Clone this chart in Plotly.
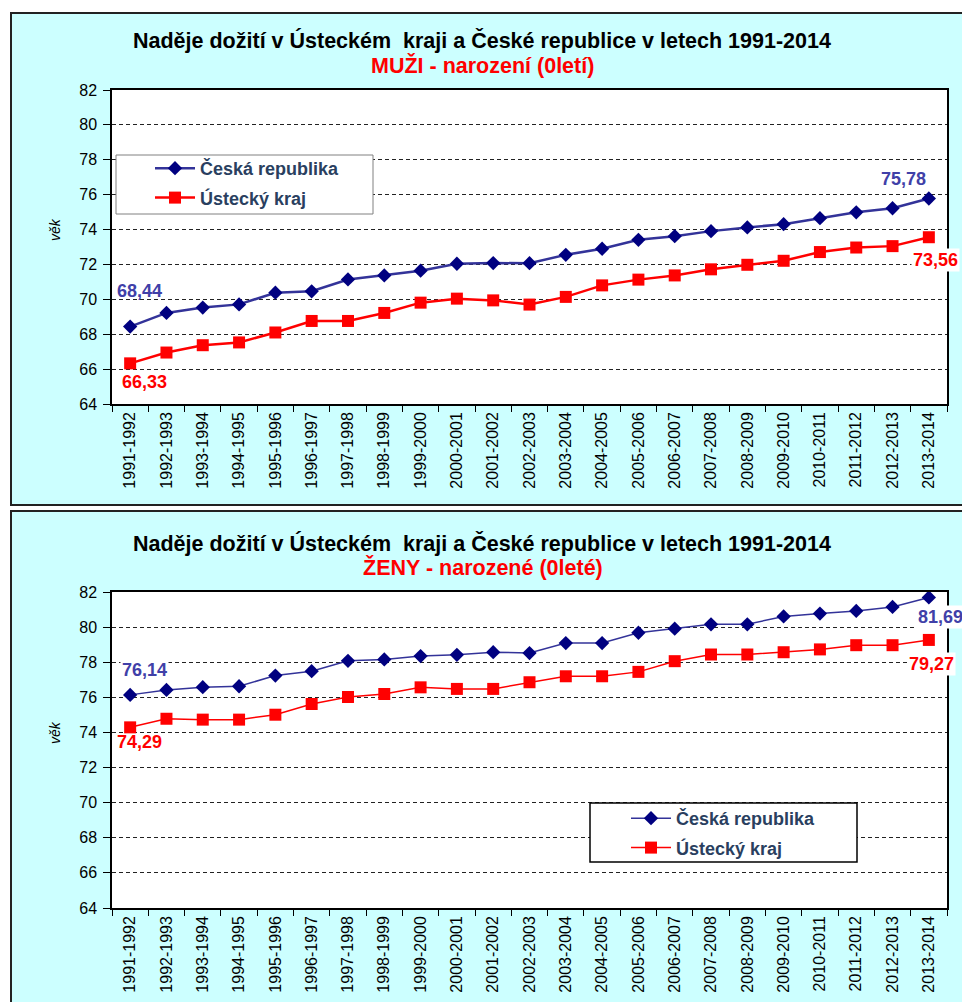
import plotly.graph_objects as go

categories = ["1991-1992", "1992-1993", "1993-1994", "1994-1995", "1995-1996", "1996-1997",
              "1997-1998", "1998-1999", "1999-2000", "2000-2001", "2001-2002", "2002-2003",
              "2003-2004", "2004-2005", "2005-2006", "2006-2007", "2007-2008", "2008-2009",
              "2009-2010", "2010-2011", "2011-2012", "2012-2013", "2013-2014"]

muzi_cr = [68.44, 69.22, 69.53, 69.71, 70.38, 70.46, 71.14, 71.37, 71.64, 72.04, 72.08, 72.07,
           72.55, 72.90, 73.41, 73.62, 73.91, 74.12, 74.31, 74.65, 74.99, 75.22, 75.78]
muzi_uk = [66.33, 66.95, 67.37, 67.53, 68.10, 68.76, 68.76, 69.22, 69.81, 70.04, 69.94, 69.70,
           70.14, 70.80, 71.13, 71.37, 71.72, 71.98, 72.21, 72.71, 72.97, 73.05, 73.56]
zeny_cr = [76.14, 76.42, 76.58, 76.63, 77.24, 77.49, 78.08, 78.16, 78.35, 78.42, 78.57, 78.52,
           79.09, 79.09, 79.68, 79.91, 80.16, 80.16, 80.61, 80.77, 80.92, 81.15, 81.69]
zeny_uk = [74.29, 74.78, 74.73, 74.73, 75.01, 75.62, 76.02, 76.19, 76.57, 76.48, 76.48, 76.86,
           77.20, 77.20, 77.45, 78.06, 78.44, 78.44, 78.57, 78.73, 78.97, 78.97, 79.27]

title_main = "Naděje dožití v Ústeckém  kraji a České republice v letech 1991-2014"
sub_top = "MUŽI - narození (0letí)"
sub_bot = "ŽENY - narozené (0leté)"
name_cr = "Česká republika"
name_uk = "Ústecký kraj"
y_title = "věk"
y_ticks = [64, 66, 68, 70, 72, 74, 76, 78, 80, 82]

W, H = 962, 1002
FONT = "Liberation Sans, Arial, sans-serif"
CR_LINE = "#333399"
CR_MARK = "#000080"
CR_TEXT = "#4040A8"
RED = "#FF0000"


def X(px):
    return px / W


def Y(py):
    return 1 - py / H


def lab(v):
    return f"{v:.2f}".replace(".", ",")


fig = go.Figure()

# top chart
fig.add_trace(go.Scatter(x=categories, y=muzi_cr, name=f"<b>{name_cr}</b>", mode="lines+markers",
                         line=dict(color=CR_LINE, width=2.5),
                         marker=dict(symbol="diamond", size=11, color=CR_MARK),
                         legend="legend", legendgroup="a", xaxis="x", yaxis="y"))
fig.add_trace(go.Scatter(x=categories, y=muzi_uk, name=f"<b>{name_uk}</b>", mode="lines+markers",
                         line=dict(color=RED, width=2.5),
                         marker=dict(symbol="square", size=12, color=RED),
                         legend="legend", legendgroup="b", xaxis="x", yaxis="y"))
# bottom chart
fig.add_trace(go.Scatter(x=categories, y=zeny_cr, name=f"<b>{name_cr}</b>", mode="lines+markers",
                         line=dict(color=CR_LINE, width=1.5),
                         marker=dict(symbol="diamond", size=11, color=CR_MARK),
                         legend="legend2", legendgroup="c", xaxis="x2", yaxis="y2"))
fig.add_trace(go.Scatter(x=categories, y=zeny_uk, name=f"<b>{name_uk}</b>", mode="lines+markers",
                         line=dict(color=RED, width=1.5),
                         marker=dict(symbol="square", size=12, color=RED),
                         legend="legend2", legendgroup="d", xaxis="x2", yaxis="y2"))

xa = dict(type="category", range=[-0.5, len(categories) - 0.5], autorange=False,
          showline=True, linecolor="black", linewidth=1.5, mirror=True,
          ticks="outside", ticklen=6, tickcolor="black", tickson="boundaries",
          tickangle=-90, tickfont=dict(family=FONT, size=16, color="black"),
          showgrid=False, zeroline=False, fixedrange=True, automargin=False)
ya = dict(range=[64, 82], autorange=False, tickvals=y_ticks, showline=True, linecolor="black",
          linewidth=1.5, mirror=True, ticks="outside", ticklen=7, tickcolor="black",
          tickfont=dict(family=FONT, size=16, color="black"), ticklabelstandoff=3,
          showgrid=True, gridcolor="#222222", gridwidth=1, griddash="4px,3px",
          zeroline=False, fixedrange=True, automargin=False)

top_dom = [Y(404), Y(90)]
bot_dom = [Y(908), Y(592)]
xdom = [X(112), X(947)]

legend_common = dict(bgcolor="rgba(0,0,0,0)", borderwidth=0, xanchor="left", yanchor="top",
                     font=dict(family=FONT, size=18), tracegroupgap=3, itemwidth=40,
                     traceorder="grouped")

shapes = [
    dict(type="rect", xref="paper", yref="paper", x0=X(11), x1=X(990), y0=Y(505), y1=Y(13),
         fillcolor="#CCFFFF", line=dict(color="#222222", width=2), layer="below"),
    dict(type="rect", xref="paper", yref="paper", x0=X(11), x1=X(990), y0=Y(1030), y1=Y(511),
         fillcolor="#CCFFFF", line=dict(color="#222222", width=2), layer="below"),
    dict(type="rect", xref="paper", yref="paper", x0=xdom[0], x1=xdom[1], y0=top_dom[0], y1=top_dom[1],
         fillcolor="white", line=dict(width=0), layer="below"),
    dict(type="rect", xref="paper", yref="paper", x0=xdom[0], x1=xdom[1], y0=bot_dom[0], y1=bot_dom[1],
         fillcolor="white", line=dict(width=0), layer="below"),
    # legend frames
    dict(type="rect", xref="paper", yref="paper", x0=X(116), x1=X(373), y0=Y(214), y1=Y(155),
         fillcolor="white", line=dict(color="#808080", width=1), layer="above"),
    dict(type="rect", xref="paper", yref="paper", x0=X(590), x1=X(857), y0=Y(862), y1=Y(803),
         fillcolor="white", line=dict(color="black", width=1.5), layer="above"),
]

ann = []
for ty, sy, sub in [(41, 65, sub_top), (543, 567, sub_bot)]:
    ann.append(dict(text=f"<b>{title_main}</b>", x=X(482), y=Y(ty), xref="paper", yref="paper",
                    showarrow=False, font=dict(family=FONT, size=21.5, color="black"),
                    xanchor="center", yanchor="middle", borderpad=0))
    ann.append(dict(text=f"<b>{sub}</b>", x=X(483), y=Y(sy), xref="paper", yref="paper",
                    showarrow=False, font=dict(family=FONT, size=21.5, color=RED),
                    xanchor="center", yanchor="middle", borderpad=0))
for vy in (230, 733):
    ann.append(dict(text=f"<i>{y_title}</i>", x=X(55), y=Y(vy), xref="paper", yref="paper",
                    showarrow=False, textangle=-90, font=dict(family=FONT, size=14, color="black"),
                    xanchor="center", yanchor="middle"))


def dl(xr, yr, i, vals, color, dx, dy, bg=None):
    d = dict(text=f"<b>{lab(vals[i])}</b>", x=categories[i], y=vals[i], xref=xr, yref=yr,
             showarrow=False, xshift=dx, yshift=dy, font=dict(family=FONT, size=18, color=color),
             xanchor="center", yanchor="middle")
    if bg:
        d["bgcolor"] = bg
    return d


last = len(categories) - 1
ann += [
    dl("x", "y", 0, muzi_cr, CR_TEXT, 9, 36),
    dl("x", "y", 0, muzi_uk, RED, 14, -19),
    dl("x", "y", last, muzi_cr, CR_TEXT, -25, 20),
    dl("x", "y", last, muzi_uk, RED, 7, -23, "white"),
    dl("x2", "y2", 0, zeny_cr, CR_TEXT, 14, 25, "white"),
    dl("x2", "y2", 0, zeny_uk, RED, 9, -15),
    dl("x2", "y2", last, zeny_cr, CR_TEXT, 12, -20, "white"),
    dl("x2", "y2", last, zeny_uk, RED, 3, -24, "white"),
]

fig.update_layout(
    width=W, height=H, autosize=False,
    margin=dict(l=0, r=0, t=0, b=0, pad=0, autoexpand=False),
    paper_bgcolor="white", plot_bgcolor="rgba(0,0,0,0)",
    font=dict(family=FONT),
    xaxis=dict(xa, domain=xdom, anchor="y"),
    yaxis=dict(ya, domain=top_dom, anchor="x"),
    xaxis2=dict(xa, domain=xdom, anchor="y2"),
    yaxis2=dict(ya, domain=bot_dom, anchor="x2"),
    showlegend=True,
    legend=dict(legend_common, x=X(150), y=Y(150)),
    legend2=dict(legend_common, x=X(626), y=Y(800)),
    shapes=shapes, annotations=ann,
)

fig.write_html("out.html", config={"displayModeBar": False, "responsive": False},
               post_script="document.body.style.margin='0';")
